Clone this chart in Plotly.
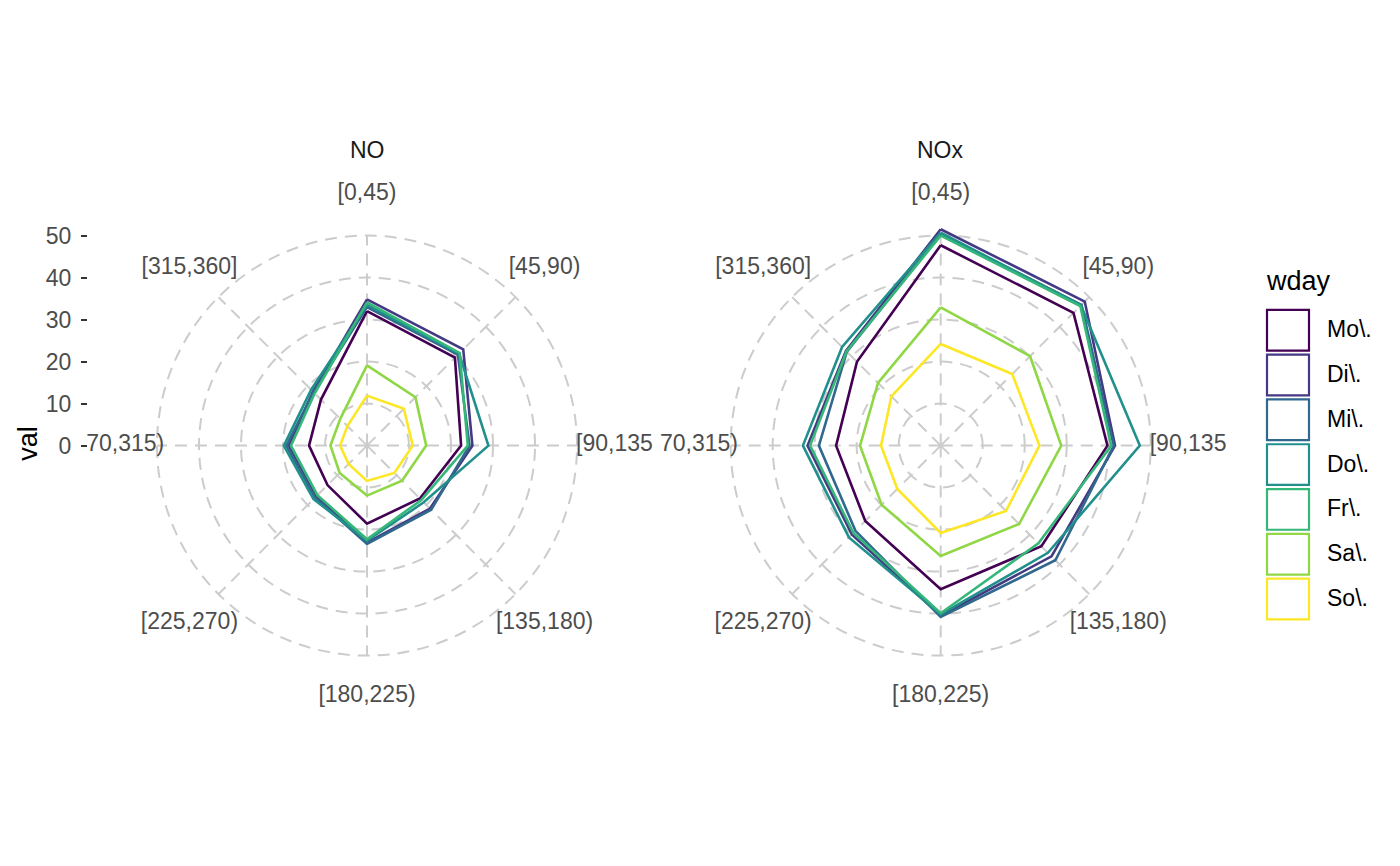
import plotly.graph_objects as go

# ---------------- data ----------------
directions = ["[0,45)", "[45,90)", "[90,135)", "[135,180)",
              "[180,225)", "[225,270)", "[270,315)", "[315,360]"]
# labels as they appear (the two outer ones are clipped by the panel in the reference)
direction_labels = ["[0,45)", "[45,90)", "[90,135", "[135,180)",
                    "[180,225)", "[225,270)", "70,315)", "[315,360]"]
weekdays = ["Mo\\.", "Di\\.", "Mi\\.", "Do\\.", "Fr\\.", "Sa\\.", "So\\."]
colors = ["#440154", "#443A83", "#31688E", "#21908C", "#35B779", "#8FD744", "#FDE725"]
panels = ["NO", "NOx"]
y_ticks = [0, 10, 20, 30, 40, 50]
grid_circles = [10, 20, 30, 40, 50]

# NO values per weekday, by direction
no_mo = [32.0, 29.6, 22.4, 17.8, 18.6, 13.3, 13.8, 15.5]
no_di = [34.8, 32.4, 25.1, 21.2, 23.1, 17.0, 18.6, 18.2]
no_mi = [33.0, 30.6, 24.4, 21.6, 23.4, 17.5, 19.2, 18.0]
no_do = [33.5, 31.0, 28.9, 19.1, 22.6, 18.0, 19.8, 18.8]
no_fr = [34.1, 31.2, 24.0, 18.3, 22.3, 16.7, 18.1, 17.6]
no_sa = [19.1, 16.3, 14.1, 11.8, 11.9, 9.2, 8.7, 9.0]
no_so = [11.9, 12.4, 10.9, 9.2, 8.4, 6.2, 6.4, 6.6]

# NOx values per weekday, by direction
nox_mo = [47.7, 44.7, 39.7, 33.9, 34.2, 25.4, 24.9, 28.2]
nox_di = [51.5, 48.5, 41.5, 37.3, 40.5, 29.9, 31.7, 31.9]
nox_mi = [50.4, 47.4, 41.2, 38.6, 40.8, 28.7, 29.0, 31.6]
nox_do = [50.7, 47.2, 47.4, 36.1, 40.2, 30.9, 32.8, 33.2]
nox_fr = [50.0, 47.0, 40.6, 32.9, 39.9, 29.4, 31.1, 31.7]
nox_sa = [32.9, 30.1, 28.7, 26.4, 26.3, 19.9, 19.2, 21.1]
nox_so = [24.2, 24.1, 23.5, 22.0, 20.8, 14.6, 14.2, 16.6]

no_series = [no_mo, no_di, no_mi, no_do, no_fr, no_sa, no_so]
nox_series = [nox_mo, nox_di, nox_mi, nox_do, nox_fr, nox_sa, nox_so]

# ---------------- layout constants ----------------
PAGE_MARGIN = 8            # default <body> margin of the html page
W, H = 1400 - 2 * PAGE_MARGIN, 866 - 2 * PAGE_MARGIN
PX_PER_UNIT = 4.333
RANGE_MAX = 64.0           # room for the direction labels
R_PX = RANGE_MAX * PX_PER_UNIT
centers = [(367.0, 446.0), (940.7, 446.0)]
FONT = "Liberation Sans, Arial, sans-serif"
SMALL = 23
BIG = 27
GRID_COL = "#cccccc"
GRID_DASH = "12px,8px"
LABEL_R_PX = 259.0


def fx(px):
    return (px - PAGE_MARGIN) / W


def fy(py):
    return 1 - (py - PAGE_MARGIN) / H


# visible part of clipped labels sits a little closer to the centre (px)
label_shift_px = [0, 0, -3.8, 0, 0, 0, -9.6, 0]
label_rs = [(LABEL_R_PX + s) / PX_PER_UNIT for s in label_shift_px]

fig = go.Figure()

for series_set, polar_id in [(no_series, "polar"), (nox_series, "polar2")]:
    # dashed spokes from centre to the outer grid circle
    sr, st = [], []
    for d in directions:
        sr += [0, grid_circles[-1], None]
        st += [d, d, None]
    fig.add_trace(go.Scatterpolar(
        r=sr, theta=st, mode="lines", connectgaps=False,
        line=dict(color=GRID_COL, width=2, dash=GRID_DASH),
        showlegend=False, subplot=polar_id, hoverinfo="skip"))
    for name, vals, col in zip(weekdays, series_set, colors):
        fig.add_trace(go.Scatterpolar(
            r=vals + vals[:1], theta=directions + directions[:1],
            mode="lines", line=dict(color=col, width=2.6),
            name=name, showlegend=False, cliponaxis=False,
            subplot=polar_id, hoverinfo="skip"))
    fig.add_trace(go.Scatterpolar(
        r=label_rs, theta=directions,
        mode="text", text=direction_labels, textposition="middle center",
        textfont=dict(family=FONT, size=SMALL, color="#4d4d4d"),
        showlegend=False, cliponaxis=False, subplot=polar_id, hoverinfo="skip"))

# dummy cartesian trace so the value axis is drawn
fig.add_trace(go.Scatter(x=[None], y=[None], showlegend=False, hoverinfo="skip"))


def polar_layout(cx, cy):
    return dict(
        domain=dict(x=[fx(cx - R_PX), fx(cx + R_PX)],
                    y=[fy(cy + R_PX), fy(cy - R_PX)]),
        bgcolor="rgba(0,0,0,0)",
        radialaxis=dict(range=[0, RANGE_MAX], tickvals=grid_circles,
                        showticklabels=False, ticks="", showline=False,
                        gridcolor=GRID_COL, gridwidth=2, griddash=GRID_DASH),
        angularaxis=dict(type="category", categoryarray=directions,
                         direction="clockwise", rotation=90,
                         showticklabels=False, ticks="", showline=False,
                         showgrid=False),
    )


cy0 = centers[0][1]
top50 = cy0 - 50 * PX_PER_UNIT
fig.update_layout(
    width=W, height=H,
    margin=dict(l=0, r=0, t=0, b=0),
    paper_bgcolor="white", plot_bgcolor="white",
    polar=polar_layout(*centers[0]),
    polar2=polar_layout(*centers[1]),
    xaxis=dict(visible=False, domain=[0.0, 0.03], range=[0, 1]),
    yaxis=dict(domain=[fy(cy0), fy(top50)],
               range=[0, 50], tickvals=y_ticks,
               ticks="outside", ticklen=6, tickwidth=2.2, tickcolor="#333333",
               showgrid=False, zeroline=False, showline=False,
               anchor="free", position=fx(87), side="left",
               ticklabelstandoff=5,
               tickfont=dict(family=FONT, size=SMALL, color="#4d4d4d")),
    showlegend=False,
)

annotations = []
# panel titles
for name, (cx, cy) in zip(panels, centers):
    annotations.append(dict(text=name, x=fx(cx), y=fy(141), xref="paper", yref="paper",
                            showarrow=False, xanchor="center", yanchor="middle",
                            font=dict(family=FONT, size=SMALL, color="#1a1a1a")))
# y axis title
annotations.append(dict(text="val", x=fx(28), y=fy(444), xref="paper", yref="paper",
                        showarrow=False, textangle=-90, xanchor="center", yanchor="middle",
                        font=dict(family=FONT, size=BIG, color="black")))
# legend title
annotations.append(dict(text="wday", x=fx(1264), y=fy(276), xref="paper", yref="paper",
                        showarrow=False, xanchor="left", yanchor="middle",
                        font=dict(family=FONT, size=BIG, color="black")))
shapes = []
KEY_TOP, KEY_PITCH, KEY_SIZE = 306.0, 46.2, 42.0
for i, (name, col) in enumerate(zip(weekdays, colors)):
    top = KEY_TOP + i * KEY_PITCH
    shapes.append(dict(type="rect", xref="paper", yref="paper",
                       x0=fx(1267), x1=fx(1267 + KEY_SIZE),
                       y0=fy(top + KEY_SIZE), y1=fy(top),
                       line=dict(color=col, width=2.2), fillcolor="rgba(0,0,0,0)"))
    annotations.append(dict(text=name, x=fx(1325), y=fy(top + KEY_SIZE / 2 - 1),
                            xref="paper", yref="paper", showarrow=False,
                            xanchor="left", yanchor="middle",
                            font=dict(family=FONT, size=SMALL, color="black")))

fig.update_layout(annotations=annotations, shapes=shapes)
fig.write_html("out.html")
